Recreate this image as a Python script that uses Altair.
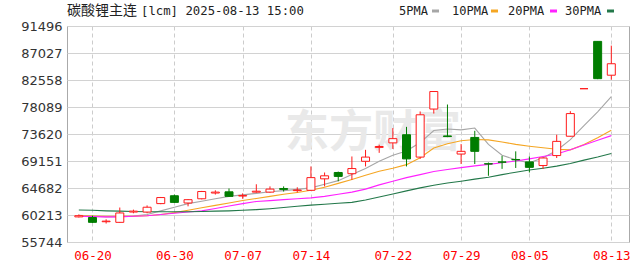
import altair as alt
import pandas as pd

# ---------------- data ----------------
dates = ["06-19", "06-20", "06-23", "06-24", "06-25", "06-26", "06-27", "06-30",
         "07-01", "07-02", "07-03", "07-04", "07-07", "07-08", "07-09", "07-10",
         "07-11", "07-14", "07-15", "07-16", "07-17", "07-18", "07-21", "07-22",
         "07-23", "07-24", "07-25", "07-28", "07-29", "07-30", "07-31", "08-01",
         "08-04", "08-05", "08-06", "08-07", "08-08", "08-11", "08-12", "08-13"]

opens = [59900, 59800, 59100, 59000, 60700, 60700, 62100, 63400,
         62200, 62900, 63850, 64050, 63350, 64000, 64000, 64600,
         64250, 64300, 66200, 67250, 67050, 69100, 71400, 72150,
         73500, 69800, 77750, 73300, 70300, 73050, 68700, 69000,
         69400, 69000, 68400, 70050, 73250, 81120, 88950, 83350]
highs = [60300, 60100, 59500, 61450, 61100, 61800, 63200, 63600,
         62850, 64200, 64300, 64600, 63800, 65300, 64950, 64950,
         64800, 68250, 67250, 67400, 69900, 71000, 71850, 74600,
         74800, 77350, 80700, 78500, 71950, 74150, 68900, 70000,
         70750, 69900, 69700, 73500, 77400, 81120, 88950, 88250]
lows = [59800, 58900, 58800, 58950, 60500, 60500, 62000, 62200,
        61650, 62800, 63600, 63200, 62900, 63900, 63900, 64100,
        63950, 64200, 64950, 65800, 66050, 68250, 70500, 71150,
        68250, 69500, 77000, 73100, 68650, 68650, 66700, 67850,
        68000, 67250, 67850, 69650, 73200, 81120, 82700, 82600]
closes = [60100, 59000, 59200, 60550, 60850, 61500, 63100, 62300,
          62750, 64100, 64000, 63300, 63450, 64150, 64500, 64450,
          64350, 66400, 66700, 66600, 67900, 69800, 71550, 72850,
          69500, 76800, 80650, 73200, 70750, 70750, 68650, 68950,
          69350, 68100, 69650, 72400, 77000, 81120, 82780, 85250]

ma5 = [60150, 60050, 59900, 59950, 60050, 60300, 60900, 61500,
       62100, 62500, 62900, 63300, 63550, 63800, 64050, 64250,
       64450, 64700, 65300, 65900, 66900, 67900, 69100, 70100,
       70800, 72200, 74200, 74450, 74300, 74600, 71900, 70100,
       69350, 68850, 69700, 70900, 72700, 75000, 77300, 79800]
ma10 = [60100, 60050, 60000, 60000, 60000, 60100, 60300, 60600,
        61000, 61400, 61800, 62200, 62600, 62950, 63300, 63650,
        63950, 64300, 64800, 65450, 66100, 66800, 67450, 67950,
        68550, 69700, 71300, 72000, 72500, 72700, 72650, 72300,
        71900, 71600, 71350, 71100, 71000, 71900, 73000, 74250]
ma20 = [60000, 59950, 59900, 59900, 60000, 60100, 60300, 60500,
        60700, 60900, 61300, 61700, 62100, 62450, 62600, 62750,
        62900, 63050, 63300, 63650, 64000, 64500, 65200, 65800,
        66400, 66900, 67400, 67750, 68050, 68350, 68600, 68850,
        69150, 69500, 69900, 70300, 71000, 71800, 72600, 73350]
ma30 = [61050, 61000, 60900, 60850, 60800, 60750, 60750, 60750,
        60750, 60800, 60850, 60900, 61000, 61100, 61250, 61450,
        61650, 61850, 62000, 62150, 62300, 62700, 63200, 63700,
        64200, 64700, 65150, 65500, 65800, 66150, 66450, 66900,
        67300, 67650, 67950, 68300, 68750, 69300, 69800, 70400]

y_ticks = [55744, 60213, 64682, 69151, 73620, 78089, 82558, 87027, 91496]
x_label_dates = ["06-20", "06-30", "07-07", "07-14", "07-22", "07-29", "08-05", "08-13"]

ma_names = ["5PMA", "10PMA", "20PMA", "30PMA"]
ma_colors = ["#a6a6a6", "#f5a623", "#ff22ff", "#23784a"]
title_name = "碳酸锂主连"
title_rest = "[lcm] 2025-08-13 15:00"

UP = "#ff1a1a"
DOWN = "#007d00"

# ---------------- tables ----------------
idx = list(range(len(dates)))
candles = pd.DataFrame({"i": idx, "date": dates, "open": opens, "high": highs,
                        "low": lows, "close": closes})
ma_rows = []
for name, series in zip(ma_names, [ma5, ma10, ma20, ma30]):
    for i, v in zip(idx, series):
        ma_rows.append({"i": i, "ma": name, "value": v})
ma_df = pd.DataFrame(ma_rows)

label_positions = [dates.index(d) for d in x_label_dates]
label_expr = "[" + ",".join("'%s'" % d for d in dates) + "][datum.value]"

x_scale = alt.Scale(domain=[-0.5, 39.93], nice=False, zero=False)
y_scale = alt.Scale(domain=[y_ticks[0], y_ticks[-1]], nice=False, zero=False)

x_axis = alt.Axis(values=label_positions, labelExpr=label_expr, title=None,
                  grid=True, gridDash=[4, 3], gridColor="#cccccc", gridWidth=1,
                  ticks=False, domain=False, labelColor="#ff0000",
                  labelFont="DejaVu Sans Mono", labelFontSize=12.5,
                  labelPadding=7, labelFlush=False)
y_axis = alt.Axis(values=y_ticks, format="d", title=None, grid=True,
                  gridColor="#d2d2d2", gridWidth=1.2, ticks=False, domain=False,
                  labelColor="#333333", labelFont="DejaVu Sans",
                  labelFontSize=13, labelPadding=5)


def X(field):
    return alt.X(field, scale=x_scale, axis=x_axis)


def Y(field):
    return alt.Y(field, scale=y_scale, axis=y_axis)


W, H = 562, 216

watermark = alt.Chart(pd.DataFrame({"t": ["东方财富"]})).mark_text(
    font="Noto Sans CJK SC", fontSize=44, fontWeight="bold", color="#e9e9e9",
    align="center", baseline="middle"
).encode(text="t:N", x=alt.value(306), y=alt.value(108))

lines = alt.Chart(ma_df).mark_line(strokeWidth=1.1).encode(
    x=X("i:Q"),
    y=Y("value:Q"),
    color=alt.Color("ma:N", scale=alt.Scale(domain=ma_names, range=ma_colors), legend=None),
    detail="ma:N",
)

up_cond = alt.datum.close >= alt.datum.open

wicks = alt.Chart(candles).mark_rule(strokeWidth=1).encode(
    x=X("i:Q"),
    y=Y("low:Q"),
    y2="high:Q",
    color=alt.condition(up_cond, alt.value(UP), alt.value(DOWN)),
)

bodies = alt.Chart(candles).mark_bar(width=8, strokeWidth=1).encode(
    x=X("i:Q"),
    y=Y("open:Q"),
    y2="close:Q",
    fill=alt.condition(up_cond, alt.value("#ffffff"), alt.value(DOWN)),
    stroke=alt.condition(up_cond, alt.value(UP), alt.value(DOWN)),
)

title_a = alt.Chart(pd.DataFrame({"t": [title_name]})).mark_text(
    font="Noto Sans CJK SC", fontSize=14, color="#222222",
    align="left", baseline="middle"
).encode(text="t:N", x=alt.value(0), y=alt.value(-15))

title_b = alt.Chart(pd.DataFrame({"t": [title_rest]})).mark_text(
    font="DejaVu Sans Mono", fontSize=12.3, color="#222222",
    align="left", baseline="middle"
).encode(text="t:N", x=alt.value(74), y=alt.value(-15))

legend_layers = []
text_x = [332, 385, 441, 498]
dash_x = [365, 424, 483, 540]
for name, col, tx, dx in zip(ma_names, ma_colors, text_x, dash_x):
    legend_layers.append(
        alt.Chart(pd.DataFrame({"t": [name]})).mark_text(
            font="DejaVu Sans Mono", fontSize=12, color="#222222",
            align="left", baseline="middle"
        ).encode(text="t:N", x=alt.value(tx), y=alt.value(-15))
    )
    legend_layers.append(
        alt.Chart(pd.DataFrame({"t": [name]})).mark_rule(color=col, strokeWidth=3).encode(
            x=alt.value(dx), x2=alt.value(dx + 7), y=alt.value(-15)
        )
    )

chart = alt.layer(watermark, lines, wicks, bodies, title_a, title_b, *legend_layers).properties(
    width=W, height=H,
    autosize=alt.AutoSizeParams(type="none"),
    padding={"left": 67, "top": 26, "right": 10, "bottom": 24},
    background="#ffffff",
).configure_view(stroke="#aaaaaa", strokeWidth=1)

chart.save("out.html", embed_options={"renderer": "svg", "actions": False})
